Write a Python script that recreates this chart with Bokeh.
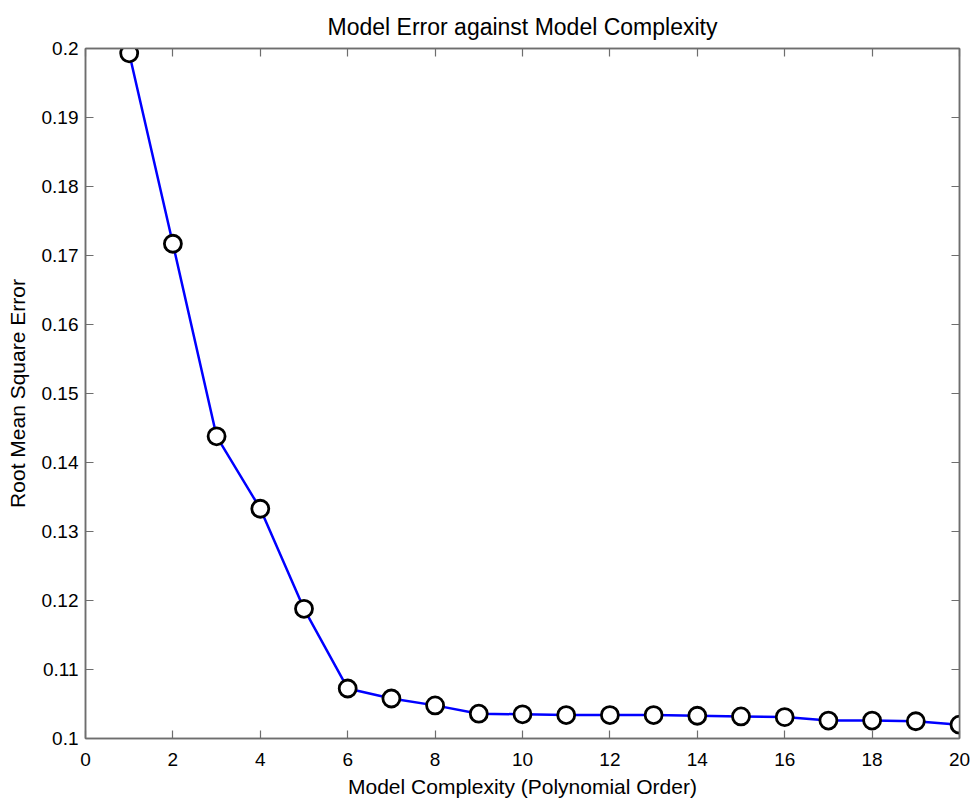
from bokeh.plotting import figure
from bokeh.models import LinearAxis, FixedTicker, Range1d
from bokeh.embed import file_html
from bokeh.resources import INLINE

order = list(range(1, 21))
rmse = [0.1993, 0.1717, 0.1438, 0.1333, 0.1188, 0.10725, 0.1058, 0.1048, 0.1036, 0.1035,
        0.1034, 0.1034, 0.1034, 0.1033, 0.1032, 0.1031, 0.1026, 0.1026, 0.1025, 0.1020]
x_ticks = [0, 2, 4, 6, 8, 10, 12, 14, 16, 18, 20]
y_ticks = [0.1, 0.11, 0.12, 0.13, 0.14, 0.15, 0.16, 0.17, 0.18, 0.19, 0.2]
y_tick_labels = ["0.1", "0.11", "0.12", "0.13", "0.14", "0.15", "0.16", "0.17", "0.18", "0.19", "0.2"]

FONT = "Liberation Sans"
AX = "#6e6e6e"

p = figure(width=971, height=802, output_backend="svg", toolbar_location=None,
           x_range=Range1d(0, 20), y_range=Range1d(0.1, 0.2),
           title="Model Error against Model Complexity",
           x_axis_label="Model Complexity (Polynomial Order)",
           y_axis_label="Root Mean Square Error",
           min_border_left=85, min_border_right=12, min_border_top=48, min_border_bottom=64)
p.title.align = "center"
p.title.text_font = FONT
p.title.text_font_style = "normal"
p.title.text_font_size = "23px"
p.title.text_color = "black"
p.title.standoff = 17
p.grid.visible = False
p.outline_line_color = AX
p.outline_line_width = 1.5
p.background_fill_color = "white"
p.border_fill_color = "white"

for ax in (p.xaxis[0], p.yaxis[0]):
    ax.axis_line_color = AX
    ax.axis_line_width = 1.5
    ax.major_tick_line_color = AX
    ax.major_tick_line_width = 1.2
    ax.major_tick_in = 8
    ax.major_tick_out = 0
    ax.minor_tick_line_color = None
    ax.major_label_text_font = FONT
    ax.major_label_text_font_size = "19px"
    ax.major_label_text_color = "black"
    ax.axis_label_text_font = FONT
    ax.axis_label_text_font_size = "21px"
    ax.axis_label_text_font_style = "normal"
    ax.axis_label_text_color = "black"

p.xaxis[0].ticker = FixedTicker(ticks=x_ticks)
p.yaxis[0].ticker = FixedTicker(ticks=y_ticks)
p.yaxis[0].major_label_overrides = {t: l for t, l in zip(y_ticks, y_tick_labels)}
p.xaxis[0].major_label_standoff = 14
p.xaxis[0].axis_label_standoff = 6
p.yaxis[0].major_label_standoff = 7
p.yaxis[0].axis_label_standoff = 10

for loc, tk in (("above", x_ticks), ("right", y_ticks)):
    a = LinearAxis(ticker=FixedTicker(ticks=tk))
    a.axis_line_color = AX
    a.axis_line_width = 1.5
    a.major_tick_line_color = AX
    a.major_tick_line_width = 1.2
    a.major_tick_in = 8
    a.major_tick_out = 0
    a.minor_tick_line_color = None
    a.major_label_text_font_size = "0px"
    a.major_label_text_color = None
    a.major_label_standoff = 0
    p.add_layout(a, loc)

p.line(order, rmse, line_color="#0000ff", line_width=2.5)
p.scatter(order, rmse, size=17, fill_color="white", line_color="black", line_width=2.8)

open("out.html", "w").write(file_html(p, INLINE))
